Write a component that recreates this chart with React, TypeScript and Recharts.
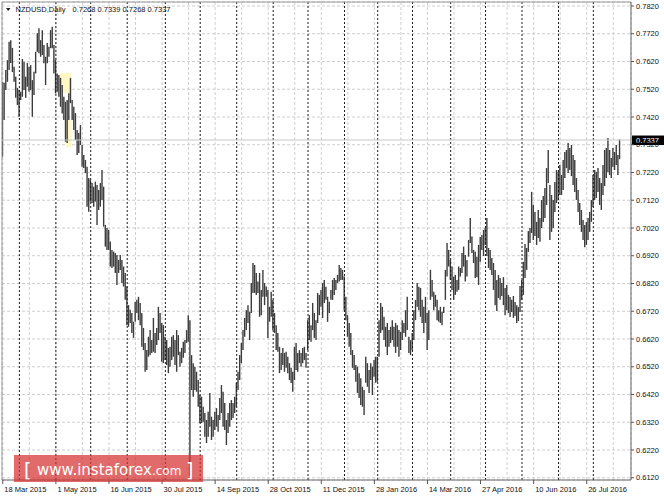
import React from "react";
import { ComposedChart, Bar, XAxis, YAxis, CartesianGrid, ReferenceLine, ReferenceArea } from "recharts";

// NZDUSD daily, one entry per trading day from 18 Mar 2015
const HIGHS = [
  0.7547, 0.7543, 0.7589, 0.7625, 0.7691, 0.7697, 0.7669, 0.7601, 0.7565, 0.7525,
  0.7517, 0.7511, 0.7629, 0.7619, 0.7565, 0.7615, 0.7601, 0.7607, 0.7553, 0.7583,
  0.7655, 0.7722, 0.7740, 0.7697, 0.7733, 0.7679, 0.7637, 0.7687, 0.7673, 0.7733,
  0.7745, 0.7679, 0.7625, 0.7577, 0.7571, 0.7561, 0.7535, 0.7493, 0.7475, 0.7481,
  0.7506, 0.7561, 0.7481, 0.7457, 0.7434, 0.7373, 0.7362, 0.7391, 0.7319, 0.7283,
  0.7265, 0.7241, 0.7200, 0.7193, 0.7182, 0.7169, 0.7187, 0.7175, 0.7157, 0.7182,
  0.7229, 0.7169, 0.7031, 0.7020, 0.7013, 0.6971, 0.6941, 0.6935, 0.6930, 0.6923,
  0.6905, 0.6923, 0.6905, 0.6881, 0.6858, 0.6809, 0.6742, 0.6725, 0.6714, 0.6682,
  0.6754, 0.6761, 0.6772, 0.6750, 0.6714, 0.6660, 0.6606, 0.6580, 0.6628, 0.6652,
  0.6616, 0.6696, 0.6642, 0.6660, 0.6736, 0.6714, 0.6678, 0.6670, 0.6628, 0.6616,
  0.6588, 0.6592, 0.6628, 0.6634, 0.6616, 0.6652, 0.6634, 0.6574, 0.6588, 0.6610,
  0.6616, 0.6652, 0.6706, 0.6688, 0.6562, 0.6533, 0.6520, 0.6502, 0.6472, 0.6418,
  0.6412, 0.6376, 0.6353, 0.6328, 0.6358, 0.6425, 0.6340, 0.6328, 0.6358, 0.6371,
  0.6346, 0.6407, 0.6454, 0.6430, 0.6389, 0.6328, 0.6353, 0.6389, 0.6400, 0.6389,
  0.6412, 0.6462, 0.6502, 0.6562, 0.6606, 0.6652, 0.6696, 0.6724, 0.6742, 0.6718,
  0.6822, 0.6894, 0.6887, 0.6858, 0.6827, 0.6858, 0.6797, 0.6869, 0.6822, 0.6809,
  0.6797, 0.6736, 0.6790, 0.6761, 0.6714, 0.6670, 0.6642, 0.6592, 0.6570, 0.6588,
  0.6570, 0.6574, 0.6556, 0.6533, 0.6516, 0.6502, 0.6592, 0.6606, 0.6570, 0.6580,
  0.6570, 0.6588, 0.6592, 0.6570, 0.6688, 0.6706, 0.6670, 0.6750, 0.6714, 0.6688,
  0.6786, 0.6779, 0.6797, 0.6822, 0.6833, 0.6808, 0.6772, 0.6754, 0.6797, 0.6833,
  0.6840, 0.6833, 0.6851, 0.6887, 0.6876, 0.6869, 0.6845, 0.6772, 0.6706, 0.6678,
  0.6642, 0.6580, 0.6562, 0.6526, 0.6520, 0.6497, 0.6479, 0.6448, 0.6436, 0.6556,
  0.6533, 0.6508, 0.6533, 0.6520, 0.6544, 0.6556, 0.6556, 0.6688, 0.6750, 0.6736,
  0.6700, 0.6664, 0.6678, 0.6652, 0.6664, 0.6688, 0.6664, 0.6678, 0.6670, 0.6652,
  0.6646, 0.6688, 0.6678, 0.6724, 0.6772, 0.6628, 0.6616, 0.6642, 0.6724, 0.6761,
  0.6822, 0.6808, 0.6804, 0.6761, 0.6736, 0.6772, 0.6714, 0.6724, 0.6869, 0.6833,
  0.6790, 0.6779, 0.6761, 0.6724, 0.6736, 0.6718, 0.6736, 0.6869, 0.6966, 0.6941,
  0.6905, 0.6881, 0.6845, 0.6851, 0.6833, 0.6881, 0.6876, 0.6930, 0.6953, 0.6923,
  0.6905, 0.6977, 0.7056, 0.6989, 0.6941, 0.6934, 0.6916, 0.6959, 0.6988, 0.6995,
  0.7013, 0.7020, 0.7056, 0.6948, 0.6941, 0.6912, 0.6894, 0.6869, 0.6833, 0.6851,
  0.6840, 0.6822, 0.6843, 0.6804, 0.6815, 0.6779, 0.6771, 0.6761, 0.6775, 0.6753,
  0.6742, 0.6735, 0.6811, 0.6833, 0.6898, 0.6962, 0.6948, 0.7009, 0.7020, 0.7150,
  0.7103, 0.7078, 0.7042, 0.7085, 0.7056, 0.7121, 0.7135, 0.7164, 0.7236, 0.7301,
  0.7175, 0.7139, 0.7121, 0.7186, 0.7229, 0.7222, 0.7247, 0.7211, 0.7265, 0.7294,
  0.7301, 0.7326, 0.7308, 0.7319, 0.7283, 0.7265, 0.7200, 0.7157, 0.7110, 0.7085,
  0.7049, 0.7031, 0.7042, 0.7056, 0.7078, 0.7121, 0.7211, 0.7229, 0.7222, 0.7236,
  0.7200, 0.7182, 0.7247, 0.7301, 0.7308, 0.7344, 0.7301, 0.7272, 0.7308, 0.7294,
  0.7319, 0.7283, 0.7339,
];

const LOWS = [
  0.7277, 0.7409, 0.7517, 0.7547, 0.7589, 0.7615, 0.7582, 0.7547, 0.7489, 0.7463,
  0.7421, 0.7481, 0.7493, 0.7517, 0.7489, 0.7529, 0.7511, 0.7517, 0.7421, 0.7499,
  0.7577, 0.7655, 0.7650, 0.7637, 0.7643, 0.7614, 0.7535, 0.7614, 0.7637, 0.7668,
  0.7668, 0.7577, 0.7505, 0.7511, 0.7493, 0.7457, 0.7433, 0.7409, 0.7331, 0.7326,
  0.7409, 0.7470, 0.7409, 0.7373, 0.7337, 0.7283, 0.7290, 0.7319, 0.7241, 0.7236,
  0.7218, 0.7097, 0.7079, 0.7115, 0.7110, 0.7097, 0.7115, 0.7031, 0.7085, 0.7097,
  0.7121, 0.7025, 0.6953, 0.6941, 0.6941, 0.6881, 0.6876, 0.6881, 0.6858, 0.6815,
  0.6858, 0.6869, 0.6822, 0.6809, 0.6761, 0.6670, 0.6664, 0.6678, 0.6642, 0.6624,
  0.6682, 0.6714, 0.6688, 0.6670, 0.6592, 0.6580, 0.6502, 0.6508, 0.6556, 0.6562,
  0.6570, 0.6574, 0.6570, 0.6598, 0.6616, 0.6642, 0.6538, 0.6533, 0.6544, 0.6526,
  0.6497, 0.6520, 0.6544, 0.6556, 0.6526, 0.6502, 0.6562, 0.6520, 0.6533, 0.6552,
  0.6570, 0.6606, 0.6610, 0.6125, 0.6436, 0.6412, 0.6436, 0.6430, 0.6376, 0.6317,
  0.6317, 0.6322, 0.6268, 0.6245, 0.6268, 0.6304, 0.6256, 0.6268, 0.6292, 0.6304,
  0.6286, 0.6328, 0.6353, 0.6304, 0.6292, 0.6238, 0.6281, 0.6304, 0.6328, 0.6335,
  0.6353, 0.6376, 0.6436, 0.6472, 0.6533, 0.6580, 0.6628, 0.6652, 0.6678, 0.6616,
  0.6714, 0.6786, 0.6786, 0.6779, 0.6786, 0.6700, 0.6706, 0.6772, 0.6742, 0.6772,
  0.6624, 0.6682, 0.6700, 0.6652, 0.6642, 0.6580, 0.6574, 0.6497, 0.6508, 0.6526,
  0.6502, 0.6516, 0.6497, 0.6472, 0.6461, 0.6430, 0.6472, 0.6508, 0.6502, 0.6533,
  0.6520, 0.6533, 0.6544, 0.6516, 0.6580, 0.6616, 0.6610, 0.6652, 0.6624, 0.6616,
  0.6678, 0.6706, 0.6736, 0.6696, 0.6750, 0.6761, 0.6682, 0.6714, 0.6761, 0.6761,
  0.6779, 0.6797, 0.6822, 0.6827, 0.6833, 0.6833, 0.6724, 0.6688, 0.6628, 0.6592,
  0.6562, 0.6516, 0.6508, 0.6466, 0.6425, 0.6407, 0.6382, 0.6376, 0.6346, 0.6462,
  0.6448, 0.6425, 0.6472, 0.6418, 0.6484, 0.6462, 0.6466, 0.6556, 0.6642, 0.6652,
  0.6616, 0.6592, 0.6562, 0.6592, 0.6606, 0.6616, 0.6592, 0.6570, 0.6592, 0.6556,
  0.6580, 0.6616, 0.6642, 0.6628, 0.6652, 0.6570, 0.6562, 0.6580, 0.6616, 0.6688,
  0.6736, 0.6724, 0.6700, 0.6678, 0.6642, 0.6678, 0.6580, 0.6616, 0.6761, 0.6772,
  0.6724, 0.6736, 0.6688, 0.6682, 0.6678, 0.6670, 0.6714, 0.6761, 0.6845, 0.6881,
  0.6833, 0.6797, 0.6761, 0.6779, 0.6790, 0.6797, 0.6845, 0.6858, 0.6881, 0.6827,
  0.6845, 0.6917, 0.6966, 0.6930, 0.6894, 0.6840, 0.6843, 0.6815, 0.6898, 0.6941,
  0.6919, 0.6959, 0.6919, 0.6876, 0.6869, 0.6851, 0.6797, 0.6742, 0.6721, 0.6768,
  0.6761, 0.6775, 0.6742, 0.6706, 0.6724, 0.6714, 0.6699, 0.6717, 0.6696, 0.6703,
  0.6678, 0.6685, 0.6717, 0.6761, 0.6779, 0.6840, 0.6869, 0.6934, 0.6966, 0.7002,
  0.6977, 0.6991, 0.6959, 0.6984, 0.6970, 0.7020, 0.7042, 0.7056, 0.7103, 0.7182,
  0.6977, 0.7006, 0.7020, 0.7078, 0.7110, 0.7121, 0.7139, 0.7139, 0.7157, 0.7200,
  0.7236, 0.7218, 0.7229, 0.7207, 0.7175, 0.7150, 0.7121, 0.7078, 0.7031, 0.7006,
  0.6977, 0.6951, 0.6959, 0.6977, 0.7006, 0.7042, 0.7096, 0.7121, 0.7128, 0.7150,
  0.7103, 0.7085, 0.7139, 0.7171, 0.7200, 0.7222, 0.7211, 0.7200, 0.7240, 0.7229,
  0.7247, 0.7211, 0.7268,
];

const DATE_LABELS = [
  "18 Mar 2015", "1 May 2015", "16 Jun 2015", "30 Jul 2015", "14 Sep 2015", "28 Oct 2015",
  "11 Dec 2015", "28 Jan 2016", "14 Mar 2016", "27 Apr 2016", "10 Jun 2016", "26 Jul 2016",
];
const LABEL_STEP = 32; // bars between date labels
const GRID_BARS = [0, 16, 32, 48, 64, 80, 96, 112, 128, 144, 160, 176, 192, 208, 224, 240, 256, 272, 288, 304, 320, 336, 352, 368];
// first trading day of each month (period separators)
const MONTH_STARTS = [10, 32, 53, 75, 98, 119, 141, 163, 184, 206, 226, 247, 270, 291, 313, 335, 356];

const PRICE_TICKS = [
  0.612, 0.622, 0.632, 0.642, 0.652, 0.662, 0.672, 0.682, 0.692,
  0.702, 0.712, 0.722, 0.732, 0.742, 0.752, 0.762, 0.772, 0.782,
];
const LAST_OHLC = [0.7268, 0.7339, 0.7268, 0.7337];
const BID = 0.7337;

const X_DOMAIN: [number, number] = [-0.48, 378.7];
const Y_DOMAIN: [number, number] = [0.61119, 0.78344];

const FONT = "'Liberation Sans', Arial, sans-serif";
const BAR_COLOR = "#3c3c3c";

const data = HIGHS.map((h, i) => ({ i, range: [LOWS[i], h] }));

const Stick = (p: any) => {
  const cx = p.x + p.width / 2;
  return <line x1={cx} x2={cx} y1={p.y} y2={p.y + p.height} stroke={BAR_COLOR} strokeWidth={1.4} />;
};

const DateTick = ({ x, y, payload }: any) => {
  const n = payload.value / LABEL_STEP;
  if (!Number.isInteger(n) || !DATE_LABELS[n]) return <g />;
  return (
    <g>
      <line x1={x} x2={x} y1={y} y2={y + 4} stroke="#555" />
      <text x={x + 1.5} y={y + 11.5} fontSize={7.5} fill="#111" fontFamily={FONT}>
        {DATE_LABELS[n]}
      </text>
    </g>
  );
};

const PriceTick = ({ x, y, payload }: any) => (
  <g>
    <line x1={x} x2={x + 3} y1={y} y2={y} stroke="#555" />
    <text x={x + 5} y={y + 2.7} fontSize={7.5} fill="#111" fontFamily={FONT}>
      {payload.value.toFixed(4)}
    </text>
  </g>
);

const BidTag = (props: any) => {
  const { x, y, width } = props.viewBox;
  const left = x + width + 1;
  return (
    <g>
      <rect x={left} y={y - 4.5} width={32} height={9.5} fill="#000" />
      <text x={left + 4} y={y + 2.8} fontSize={7.5} fill="#fff" fontFamily={FONT}>
        {BID.toFixed(4)}
      </text>
    </g>
  );
};

export default function App() {
  return (
    <div style={{ position: "absolute", left: 0, top: 0, width: 664, height: 498, background: "#fff" }}>
      <ComposedChart width={664} height={498} data={data} margin={{ top: 2, right: 0, bottom: 0, left: 2 }}>
        <CartesianGrid stroke="#cfcfcf" strokeDasharray="3 2" />
        <XAxis
          dataKey="i"
          type="number"
          domain={X_DOMAIN}
          ticks={GRID_BARS}
          interval={0}
          height={18}
          tickSize={0}
          tickMargin={0}
          tickLine={false}
          tick={<DateTick />}
          axisLine={{ stroke: "#666" }}
          allowDataOverflow
        />
        <YAxis
          orientation="right"
          type="number"
          domain={Y_DOMAIN}
          ticks={PRICE_TICKS}
          interval={0}
          width={33}
          tickSize={0}
          tickMargin={0}
          tickLine={false}
          tick={<PriceTick />}
          axisLine={{ stroke: "#666" }}
          allowDataOverflow
        />
        <ReferenceArea x1={34.5} x2={41.4} y1={0.7507} y2={0.7579} fill="#fff7c6" fillOpacity={1} stroke="none" />
        <ReferenceArea x1={38.1} x2={41.4} y1={0.7312} y2={0.7409} fill="#fff7c6" fillOpacity={1} stroke="none" />
        {MONTH_STARTS.map((m) => (
          <ReferenceLine key={m} x={m} stroke="#1a1a1a" strokeDasharray="2 2" />
        ))}
        <ReferenceLine x={X_DOMAIN[0]} stroke="#999" />
        <ReferenceLine y={Y_DOMAIN[1]} stroke="#999" />
        <ReferenceLine y={BID} stroke="#c8c8c8" label={BidTag} />
        <Bar dataKey="range" barSize={1} shape={<Stick />} isAnimationActive={false} />
      </ComposedChart>
      <svg width={664} height={498} style={{ position: "absolute", left: 0, top: 0, pointerEvents: "none" }}>
        <polygon points="6,8 10.5,8 8.25,11" fill="#222" />
        <text y={11.5} fontSize={7.5} fill="#111" fontFamily={FONT}>
          <tspan x={15.5}>NZDUSD,Daily</tspan>
          <tspan x={72.5}>{LAST_OHLC.map((v) => v.toFixed(4)).join(" ")}</tspan>
        </text>
        <rect x={14} y={455} width={189} height={27} fill="rgba(214,50,50,0.72)" />
        <text x={24} y={477} fontSize={19} fill="#fff" fontFamily="'DejaVu Sans', sans-serif">[</text>
        <text x={37} y={475} fontSize={15} fill="#fff" fontFamily="'DejaVu Sans', sans-serif">
          www.instaforex<tspan fontSize={12}>.com</tspan>
        </text>
        <text x={186} y={477} fontSize={19} fill="#fff" fontFamily="'DejaVu Sans', sans-serif">]</text>
      </svg>
    </div>
  );
}
